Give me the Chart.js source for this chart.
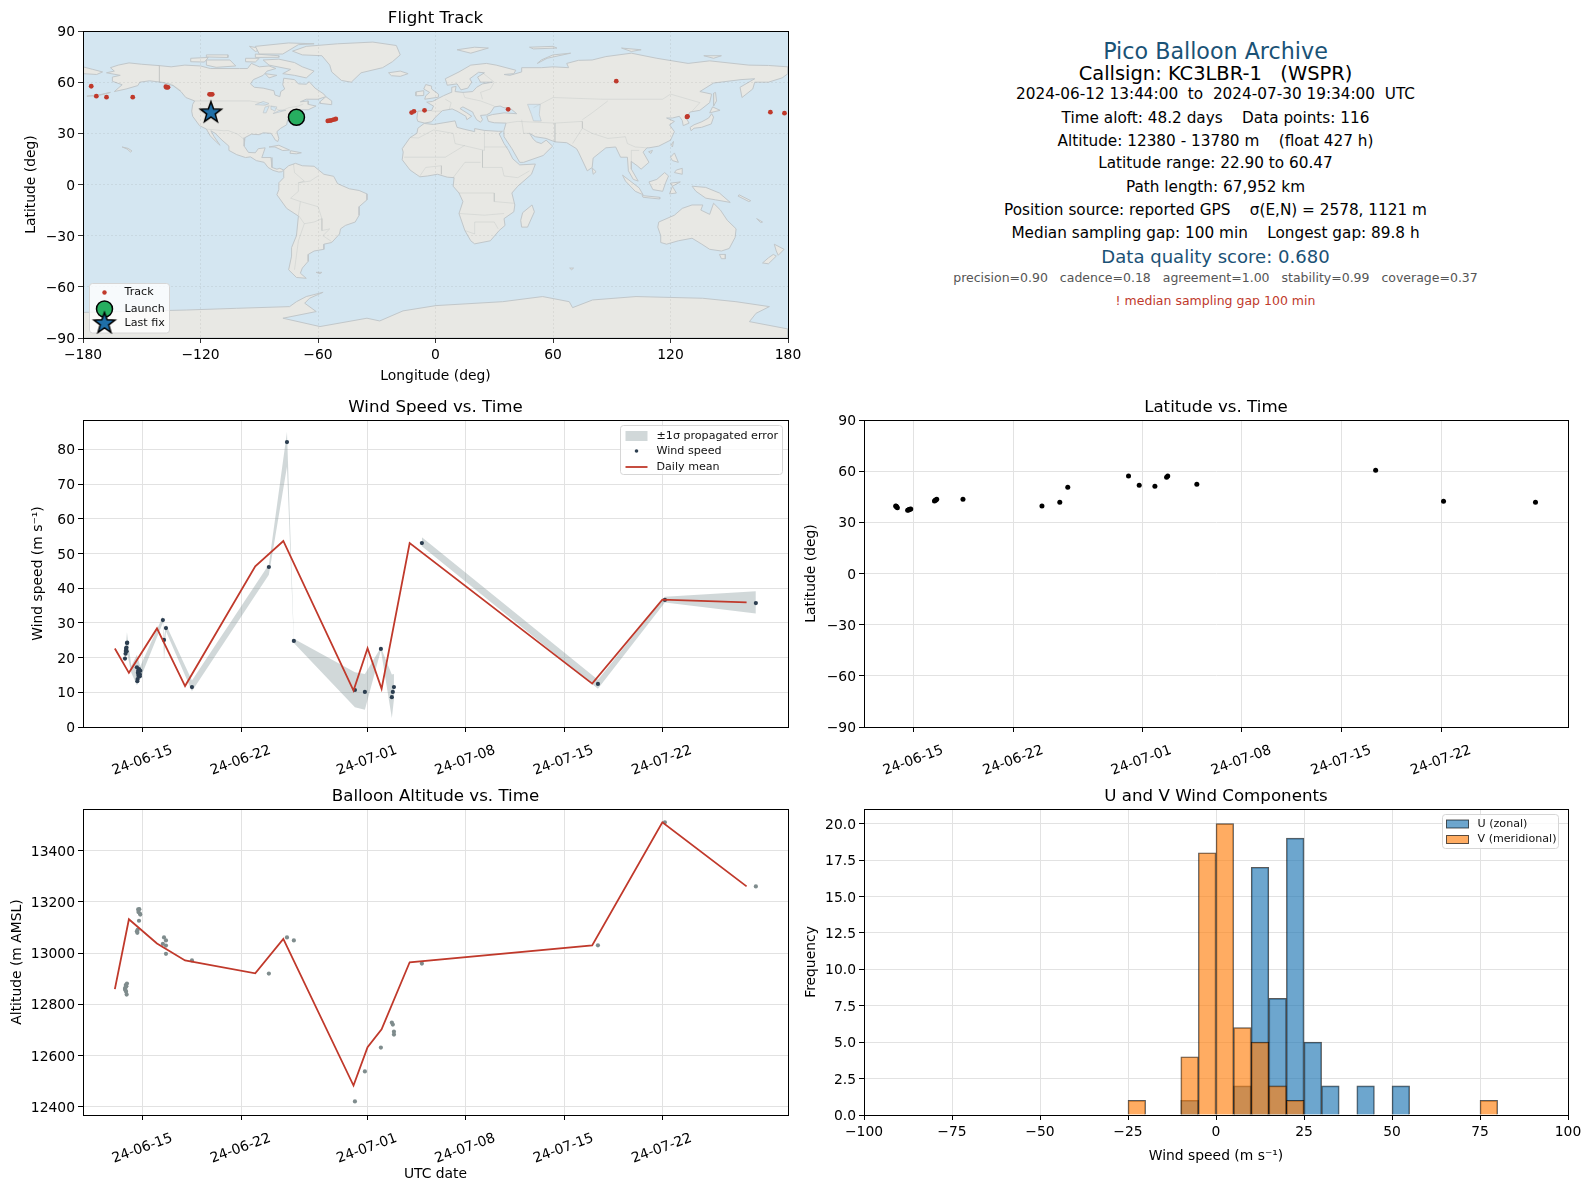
<!DOCTYPE html>
<html>
<head>
<meta charset="utf-8">
<title>Pico Balloon Archive</title>
<script src="https://cdn.jsdelivr.net/npm/chart.js@4"></script>
<style>
  html, body { margin: 0; padding: 0; background: #fff; }
  body { position: relative; width: 1589px; height: 1189px; overflow: hidden; font-family: "DejaVu Sans", sans-serif; }
  canvas { position: absolute; }
  .line { position: absolute; left: 1215.5px; transform: translate(-50%, -50%); white-space: pre; font-size: 15.28px; color: #000; }
</style>
</head>
<body>
<canvas id="map" style="left:0;top:7px" width="806" height="378"></canvas>
<canvas id="wind" style="left:0;top:396px" width="800" height="391"></canvas>
<canvas id="lat" style="left:790px;top:396px" width="799" height="391"></canvas>
<canvas id="alt" style="left:0;top:785px" width="800" height="398"></canvas>
<canvas id="hist" style="left:790px;top:785px" width="799" height="380"></canvas>

<div class="line" style="top:51px;font-size:22.22px;color:#1a5276">Pico Balloon Archive</div>
<div class="line" style="top:73px;font-size:19.44px">Callsign: KC3LBR-1   (WSPR)</div>
<div class="line" style="top:94px">2024-06-12 13:44:00  to  2024-07-30 19:34:00  UTC</div>
<div class="line" style="top:118px">Time aloft: 48.2 days    Data points: 116</div>
<div class="line" style="top:141px">Altitude: 12380 - 13780 m    (float 427 h)</div>
<div class="line" style="top:163px">Latitude range: 22.90 to 60.47</div>
<div class="line" style="top:187px">Path length: 67,952 km</div>
<div class="line" style="top:210px">Position source: reported GPS    σ(E,N) = 2578, 1121 m</div>
<div class="line" style="top:233px">Median sampling gap: 100 min    Longest gap: 89.8 h</div>
<div class="line" style="top:256px;font-size:18.06px;color:#1a5276">Data quality score: 0.680</div>
<div class="line" style="top:277px;font-size:12.5px;color:#555">precision=0.90   cadence=0.18   agreement=1.00   stability=0.99   coverage=0.37</div>
<div class="line" style="top:300px;font-size:12.5px;color:#c0392b">! median sampling gap 100 min</div>

<script>
// time axis: day number counted from June 1 (July 1 = 31)
const dateTicks = [15, 22, 31, 38, 45, 52]
const dateLabels = ['24-06-15', '24-06-22', '24-07-01', '24-07-08', '24-07-15', '24-07-22']

const lonTicks = [-180, -120, -60, 0, 60, 120, 180]
const latTicks = [-90, -60, -30, 0, 30, 60, 90]
const altTicks = [12400, 12600, 12800, 13000, 13200, 13400]

// track on the map
const trackLon = [-175.8, -173.2, -168, -154.6, -137.7, -136.6, -137.3, -115.4, -114, -114.7, -55, -53.2, -52, -50.9, -54, -12.2, -11, -5.6, 37.1, 92.3, 128.7, 128.4, 171, 178.2]
const trackLat = [57.6, 51.8, 51.2, 51.2, 57.3, 57, 56.9, 52.9, 52.9, 52.9, 37.3, 37.6, 38, 38.4, 37.4, 42.2, 42.9, 43.5, 44.1, 60.6, 40, 39.6, 42.4, 41.8]
const launchLon = [-71]
const launchLat = [39.4]
const lastLon = [-114.7]
const lastLat = [42.4]

// coastlines as lon/lat rings
const northAmerica = [[-168,65.5],[-164,66.5],[-166,68.5],[-162,70],[-156.5,71.3],[-150,70.5],[-141,69.7],[-135,69],[-128,70],[-120,69.5],[-115,68],[-108,68],[-100,68],[-96,68],[-94,71],[-90,69],[-85,69.5],[-81.5,68],[-86,66.5],[-88,64],[-93,61.5],[-94.5,59],[-92.5,57],[-88,56.5],[-82.5,55],[-82,52.5],[-79.5,51.5],[-79,54.5],[-77,56],[-78,58.5],[-77.5,62.3],[-72,61.5],[-70,59],[-66,58.8],[-64.5,60.3],[-61.5,56.5],[-57,53],[-56,51.5],[-60,50],[-66,50],[-69,48.5],[-65,49],[-65,47],[-61,46],[-65,43.8],[-70,43.8],[-70.5,41.8],[-74,40.5],[-75.5,38],[-76,35],[-79,33],[-81,31],[-80,27],[-80.5,25.2],[-81.8,26],[-82.8,28],[-84,30],[-88,30.3],[-90,29.2],[-94,29.5],[-97.3,27.5],[-97.7,22.5],[-95.5,18.8],[-92,18.6],[-90.5,21],[-87,21.5],[-88,18],[-88.7,15.8],[-84,15.8],[-83.5,12],[-83.5,10],[-81,9],[-79.5,9.5],[-77.5,8.5],[-78.5,7.5],[-80,7.3],[-83,8.3],[-85.5,10],[-87.5,13],[-91.5,14],[-94.5,16.2],[-97,15.8],[-101.5,17.5],[-105.5,20],[-105.5,22.5],[-109,26],[-112.5,30],[-114.7,31.5],[-113,28],[-110,23],[-112,25],[-115,28.5],[-117,32.5],[-120.5,34.5],[-124,40],[-124.5,43],[-124,47],[-123,49],[-127.5,51],[-130,54.5],[-134,58],[-139,59.8],[-146,60.8],[-151,60],[-152,58],[-158,56],[-164,54.5],[-160,58.5],[-165,60.5],[-165,63],[-161,64]]
const greenland = [[-73,78.2],[-66,81],[-50,82.5],[-32,83.5],[-20,81.5],[-18,76],[-22,72],[-27,68.5],[-38,65.5],[-43,60],[-48,61],[-53,66],[-54,70],[-58,75.5],[-68,76]]
const baffin = [[-80,73.5],[-72,71.5],[-68,69],[-62,66.5],[-66,62.5],[-72,64],[-78,65],[-74,67.5],[-85,70],[-88,73]]
const victoria = [[-117,73],[-105,73],[-102,69.5],[-112,68.7],[-117,70]]
const banks = [[-125,74],[-116,74.5],[-118,71.8],[-125,72]]
const ellesmere = [[-90,76.5],[-78,76.5],[-70,82],[-62,82.5],[-75,83],[-92,81]]
const devon = [[-92,76.5],[-80,75.5],[-80,74.6],[-92,74.5]]
const melville = [[-117,76],[-106,76],[-106,74.5],[-117,74.8]]
const somerset = [[-97,74],[-90,74],[-92,71.8],[-97,72]]
const southampton = [[-87,65],[-81,64],[-85,62.5]]
const axelHeiberg = [[-95,81],[-88,79.5],[-92,78]]
const newfoundland = [[-59,47.6],[-53,46.8],[-53,49],[-56,51.5],[-59,48.5]]
const cuba = [[-85,22],[-80,23],[-74.5,20.2],[-78,19.9],[-82,22]]
const hispaniola = [[-74,19.8],[-68.5,18.6],[-71,18],[-74.3,18.3]]
const hawaii = [[-160,22],[-157,21.2],[-155,19.7],[-155.7,19],[-157.5,20.8]]
const aleutians = [[-178,51.8],[-172,52.5],[-166,54],[-172,52.2]]
const southAmerica = [[-77.5,8.5],[-75,11],[-71.5,12.4],[-68,11],[-62,10.7],[-57,6],[-52,4.8],[-50,0.5],[-44,-2.5],[-39,-3.5],[-35,-5.5],[-35,-9],[-39,-13],[-39,-18],[-41,-22],[-46,-24],[-48.5,-26],[-49,-29],[-53,-34],[-57,-35],[-57,-38],[-62,-39],[-65,-41],[-65,-45],[-68,-49],[-69,-52],[-66,-55],[-71,-54.5],[-75,-50],[-73.5,-42],[-73.5,-37],[-71,-30],[-70,-18.5],[-76,-14],[-81,-6],[-80,-3],[-80,1],[-77.5,4]]
const falklands = [[-61,-51.5],[-58,-51.5],[-59,-52.3]]
const africa = [[-5.8,35.8],[-1,35.2],[10,37.3],[11,33.5],[15,32.3],[20,31],[20,32.8],[25,31.7],[32,31.2],[34.2,31.2],[32.5,29.8],[35,24],[37.3,20],[39.5,15],[43,11.5],[51,12],[49,6],[42,-1],[39,-5],[40.5,-12],[40,-16],[35,-20],[35.5,-24],[32.5,-27],[28,-33],[20,-34.8],[18,-33],[15,-27],[12,-17],[14,-10],[12,-5],[9,-1],[9.5,4],[6,4.3],[1,6],[-4,5],[-8,4.5],[-13,8.5],[-17,14.5],[-16.5,19],[-17,21],[-13,27.5],[-9.5,30],[-9,33]]
const madagascar = [[49.3,-12],[50.5,-16],[47,-25],[44,-25],[43.5,-21],[44.5,-16.5]]
const eurasia = [[-9,37],[-9.5,38.8],[-9,43],[-2,43.4],[-1,46],[-4.5,48.3],[-1.5,48.7],[1.5,50.5],[4,52],[8,54],[8.3,57],[10.5,57.5],[10,54.5],[14,54],[19,54.5],[21,57],[24,59],[29,60],[23,60],[21.5,63],[25,65.5],[22,65.8],[17.5,62],[18.5,60],[16.5,56.5],[13,55.5],[11,59],[6,58.2],[5,62],[12,66],[18,70],[26,71],[31,70],[41,67],[40,65],[35,64.5],[38,64],[44,66],[44,68.5],[54,68.5],[60,69],[68,68.5],[67,71],[73,72.8],[80,73],[87,75],[100,77],[113,74],[129,71],[140,72.5],[160,70],[170,69.8],[180,69],[180,65],[177,62.5],[170,60],[163,60],[162,56],[156.5,51],[155.5,57],[163,62],[156,61.5],[142,59.5],[135,54.5],[141,53],[140,48],[135,43.5],[130,42.5],[128,39],[129.5,36],[126.5,34.5],[126,37.5],[124.5,40],[121,39],[118,39],[122,37],[119.5,35],[122,31],[120,26],[114,22.5],[109,21.5],[108,21.5],[106,19],[109,13],[105,9],[103,11],[100,13.5],[100,9],[103.5,2],[101,3],[98.5,8],[98,16],[94.5,16],[92,22],[87,21.5],[80.5,15.5],[80,10],[77.5,8],[73,19],[72,21],[67,24.5],[61,25],[56.5,27],[51,28],[48,30],[50,26.5],[51.5,25],[54,24],[56.5,26],[59.8,22.5],[55,17],[45,13],[43,13],[39,21],[35,28],[34.9,31.5],[36,36],[30,36.2],[27,37],[26.2,40],[29,41],[35,42],[41.5,41.5],[38,44.8],[35,45],[33,46],[30,45.5],[28,42],[26,40.8],[23,40.5],[24,38],[23,36.5],[21,38],[19.5,41],[19,42.5],[14,45.5],[12.5,44.5],[16,42],[18.5,40],[16,38],[15.5,40],[11,43],[8.5,44.3],[3.5,43.3],[0,39.5],[-2,36.8],[-5.5,36]]
const chukotkaEnd = [[-180,69],[-175,67.5],[-170,66],[-173,64.5],[-180,65]]
const britain = [[-5.5,50],[1.5,51.2],[1.5,53],[-2,56],[-2,57.7],[-5,58.6],[-6,56],[-3,54],[-5,52]]
const ireland = [[-10,52],[-6,52.2],[-6,55],[-10,54.3]]
const iceland = [[-24,65.5],[-18,66.5],[-14,65],[-18,63.4],[-22.5,63.8]]
const svalbard = [[11,79],[20,80.5],[27,80],[18,77]]
const novayaZemlya = [[52,71],[57,74],[69,77],[60,76],[54,73]]
const franzJosef = [[48,80.5],[60,81],[62,80],[50,79.5]]
const severnaya = [[95,80],[105,79],[100,78]]
const newSiberian = [[137,75.5],[146,75.5],[142,74]]
const honshu = [[130.5,31.5],[132,33],[135.8,33.5],[140.8,35.5],[142,39.5],[141,41.5],[139.5,39],[136,36.8],[132,35],[130,33.5]]
const hokkaido = [[140,42],[145.3,43.5],[141.5,45.5]]
const sakhalin = [[142,46],[143.5,49],[143,54],[142,53.5]]
const taiwan = [[120.2,23],[121.5,25.2],[121,22]]
const hainan = [[108.8,19.2],[110.8,20],[110,18.2]]
const luzon = [[120,16],[122,18.5],[124,13],[121,14]]
const mindanao = [[122,7],[126,6],[126,9.5],[123,8.5]]
const sumatra = [[95.5,5.5],[104,-2],[106,-6],[102,-4],[97,2]]
const java = [[105.5,-6.5],[114.5,-7.5],[114.5,-8.5],[106,-7.5]]
const borneo = [[109,1.5],[113,3],[117,7],[119,5],[117.5,1],[116,-4],[111,-3]]
const sulawesi = [[119.5,-5.5],[121,-1],[125,1.5],[120,0.8],[123,-5]]
const newGuinea = [[131,-1],[138,-1.7],[145,-5],[150.5,-10.5],[143,-9],[138,-8],[133,-4]]
const solomons = [[155,-6],[161,-9.5],[160,-10],[154.5,-6.8]]
const newCaledonia = [[164,-20],[167,-22],[166,-22.3]]
const sriLanka = [[80,9.7],[82,7.5],[80.5,6]]
const australia = [[114,-22],[122,-18],[126,-14],[131,-12],[136.5,-12],[135.5,-15],[140,-17.5],[142,-11],[145.5,-15],[149,-21],[153.5,-26],[153,-31],[150,-37.5],[146,-39],[140,-38],[136,-35],[131,-31.5],[124,-33],[118,-35],[115,-34],[115,-30],[113.5,-25]]
const tasmania = [[145,-41],[148,-41],[148,-43.5],[146,-43.5]]
const newZealandN = [[173,-35],[178,-38],[175,-41.5],[174,-39]]
const newZealandS = [[172.5,-41],[174,-42],[170,-46.5],[167,-46],[170,-43]]
const kerguelen = [[68.5,-49],[70.5,-49],[69.5,-50]]
const antarctica = [[-180,-75],[-146,-74.1],[-127.2,-73.6],[-101.7,-72.6],[-74.5,-71.6],[-71,-68.7],[-66,-65.7],[-57.4,-63.2],[-64.3,-66.7],[-66.8,-69.6],[-60.9,-74.5],[-77.9,-78.4],[-59,-83.3],[-35,-78.4],[-28.5,-80],[-16.6,-74.1],[0.25,-71],[34.3,-68.7],[54.7,-65.7],[68.3,-68.7],[70,-72.2],[80.2,-67.7],[102.4,-65.7],[136.4,-66.7],[153.4,-68.7],[170.5,-71.6],[163.7,-75.5],[160.3,-80.4],[180,-84.7],[180,-90],[-180,-90]]
const landRings = [northAmerica, greenland, baffin, victoria, banks, ellesmere, devon, melville, somerset, southampton, axelHeiberg, newfoundland, cuba, hispaniola, hawaii, aleutians, southAmerica, falklands, africa, madagascar, eurasia, chukotkaEnd, britain, ireland, iceland, svalbard, novayaZemlya, franzJosef, severnaya, newSiberian, honshu, hokkaido, sakhalin, taiwan, hainan, luzon, mindanao, sumatra, java, borneo, sulawesi, newGuinea, solomons, newCaledonia, sriLanka, australia, tasmania, newZealandN, newZealandS, kerguelen, antarctica]

const caspian = [[47,47],[53.5,47],[53,41],[54,37.2],[50,37.3],[49,41]]
const lakeSuperior = [[-92,46.8],[-88,48.7],[-85,47.5],[-87,46.5]]
const lakeMichigan = [[-88,42],[-86.5,42],[-85,45.8],[-87,45.5]]
const lakeHuron = [[-84,46],[-81,45.5],[-82,43],[-83.5,44]]
const lakeErieOntario = [[-83,41.6],[-79,42.7],[-76.3,43.5],[-79.5,43.6],[-81,42.7]]
const waterRings = [caspian, lakeSuperior, lakeMichigan, lakeHuron, lakeErieOntario]

const borderLines = [
  [[-141,69.7],[-141,60],[-135,59],[-130,55]],
  [[-123,49],[-95,49],[-89,48],[-83,45.5],[-79,43],[-75,45],[-70,46],[-67.5,47.2]],
  [[-117,32.5],[-108,31.5],[-106,31.7],[-101,29.5],[-97.3,26]],
  [[-70,-18],[-69,-10],[-74,-8],[-70,-4],[-70,1],[-67,2],[-72,7],[-72.5,12]],
  [[-58,-20],[-62,-22],[-67,-23],[-70,-18]],
  [[-67,-23],[-70,-33],[-72,-50]],
  [[-58,-20],[-58,-27],[-54,-26],[-57.5,-30],[-53,-33.5]],
  [[-60,5],[-64,2],[-70,1]],
  [[-69,-10],[-60,-13],[-58,-20]],
  [[-13,27.5],[-8.7,27.3],[-1,32]],
  [[-1,32],[9,30],[10,24],[25,20],[25,31.7]],
  [[25,22],[37,22]],
  [[-16,16],[5,16],[15,23]],
  [[24,20],[24,10],[34,10],[35,5],[42,4],[48,8]],
  [[12,-5],[30,-5],[30,-10],[40,-11]],
  [[12,-17],[25,-18],[35,-17]],
  [[15,-27],[20,-29],[20,-22],[30,-22],[32,-26]],
  [[9,4],[15,13],[23,13]],
  [[-8,5],[-5,10],[3,11],[3,6]],
  [[3,43],[-2,43]],
  [[5,50],[8,48],[7,44]],
  [[14,54],[15,51],[23,49],[30,46]],
  [[24,65.5],[30,60],[28,56],[23,54],[24,50]],
  [[44,38],[45,30],[48,30]],
  [[36,36],[42,37],[61,36],[61,25]],
  [[50,45],[60,51],[85,50],[98,50],[116,50],[120,53],[135,48],[131,43]],
  [[75,38],[80,42],[88,49]],
  [[61,36],[75,37],[75,33],[70,24]],
  [[75,33],[80,30],[88,27],[97,28],[98,24],[102,22],[108,21.5]],
  [[100,13.5],[100,20],[104,20]]
]

// wind speed samples
const windDays = [13.72, 13.76, 13.78, 13.8, 13.82, 13.84, 13.86, 13.88, 14.57, 14.6, 14.62, 14.64, 14.66, 14.68, 14.7, 14.72, 14.76, 14.78, 14.81, 14.78, 16.42, 16.5, 16.64, 18.49, 23.97, 25.26, 25.75, 30.1, 30.81, 31.95, 32.73, 32.8, 32.88, 34.87, 47.41, 52.18, 58.66]
const windSpeed = [19.7, 21.1, 21.9, 22.5, 22.9, 21.8, 24.2, 24.3, 17.2, 13.2, 13.8, 15.6, 16.2, 14.8, 15.1, 16.7, 16.3, 14.6, 16.2, 15.2, 30.8, 25.1, 28.5, 11.5, 46.1, 82.1, 24.8, 10.66, 10.1, 22.5, 8.6, 10.1, 11.5, 53.0, 12.4, 36.6, 35.7]
const windMeanDays = [13, 14, 16, 18, 23, 25, 30, 31, 32, 34, 47, 52, 58]
const windMean = [22.6, 15.6, 28.4, 11.8, 46.3, 53.6, 10.5, 22.7, 11.0, 53.0, 12.5, 36.7, 35.9]

// propagated error band, null where the band breaks
const bandDays = [13.72, 13.86, 14.17, 14.57, 14.81, 16.42, 16.5, 16.64, 18.49, 23.97, 25.26, 25.75, 30.1, 30.81, 31.95, 32.73, 32.88, 33.9, 34.87, 47.41, 52.18, 58.66]
const bandLow = [19.0, 21.5, 15.6, 12.0, 14.0, 30.0, 19.2, 27.6, 10.3, 43.9, 75.0, 24.2, 5.7, 5.0, 22.1, 2.6, 7.9, null, 52.1, 11.0, 35.9, 32.7]
const bandHigh = [20.4, 27.3, 17.6, 20.8, 17.5, 31.9, 25.6, 29.5, 13.4, 46.8, 85.0, 25.4, 15.8, 15.3, 22.9, 15.1, 15.3, null, 54.7, 13.6, 37.5, 39.1]

// latitude samples
const latDays = [13.72, 13.76, 13.78, 13.84, 14.56, 14.62, 14.66, 14.72, 14.78, 16.44, 16.5, 16.53, 16.6, 18.44, 23.98, 25.23, 25.79, 30.05, 30.8, 31.9, 32.72, 32.8, 34.84, 47.38, 52.14, 58.59]
const latValues = [39.6, 39.4, 39.2, 38.6, 37.1, 37.3, 37.5, 37.6, 37.8, 42.5, 42.9, 43.1, 43.5, 43.5, 39.6, 41.8, 50.6, 57.1, 51.8, 51.2, 56.5, 57.1, 52.4, 60.6, 42.4, 41.8]

// altitude samples
const altDays = [13.72, 13.74, 13.76, 13.78, 13.8, 13.82, 13.84, 13.86, 14.57, 14.6, 14.62, 14.66, 14.68, 14.72, 14.74, 14.78, 14.81, 16.42, 16.5, 16.64, 16.64, 16.64, 18.49, 23.97, 25.26, 25.75, 30.1, 30.81, 31.95, 32.73, 32.8, 32.88, 32.88, 34.87, 47.41, 52.18, 58.66]
const altValues = [12860, 12864, 12855, 12875, 12849, 12870, 12838, 12881, 13085, 13079, 13090, 13170, 13160, 13126, 13171, 13154, 13150, 13036, 13061, 13049, 13029, 12997, 12971, 12920, 13061, 13049, 12421, 12538, 12631, 12729, 12721, 12693, 12682, 12959, 13030, 13510, 13260]
const altMean = [12859, 13132, 13037, 12971, 12921, 13055, 12483, 12633, 12702, 12964, 13030, 13510, 13260]

// wind component histogram, 5 m/s bins named by their centre
const binCenters = [-22.5, -7.5, -2.5, 2.5, 7.5, 12.5, 17.5, 22.5, 27.5, 32.5, 42.5, 52.5, 77.5]
const uCounts = [0, 1, 0, 0, 2, 17, 8, 19, 5, 2, 2, 2, 0]
const vCounts = [1, 4, 18, 20, 6, 5, 2, 1, 0, 0, 0, 0, 1]

const FONT = '"DejaVu Sans", sans-serif'
const GRID = '#e2e2e2'
const RED = '#c0392b'

Chart.defaults.font.family = FONT
Chart.defaults.color = '#000'
Chart.defaults.animation = false
Chart.defaults.responsive = false
Chart.defaults.devicePixelRatio = 1

const pairs = (xs, ys) => xs.map((x, i) => ({x: x, y: ys[i]}))
const polyline = r => r.map(p => ({x: p[0], y: p[1]}))
const ring = r => polyline(r.concat([r[0]]))
const minus = v => String(v).replace('-', '\u2212')

// filled five point star, Chart.js only has the asterisk one
const makeStar = () => {
  const c = document.createElement('canvas')
  c.width = 28
  c.height = 28
  const g = c.getContext('2d')
  g.beginPath()
  for (let i = 0; i < 10; i++) {
    const r = i % 2 ? 4.5 : 11
    const a = -Math.PI / 2 + i * Math.PI / 5
    g.lineTo(14 + r * Math.cos(a), 14.5 + r * Math.sin(a))
  }
  g.closePath()
  g.fillStyle = '#1f6fa8'
  g.fill()
  g.lineWidth = 1.5
  g.strokeStyle = '#000'
  g.stroke()
  return c
}
const starIcon = makeStar()

// frame on all four sides and optional plot background
const panelFrame = {
  id: 'panelFrame',
  beforeDraw(chart, args, opts) {
    if (!opts.background) return
    const a = chart.chartArea
    chart.ctx.fillStyle = opts.background
    chart.ctx.fillRect(a.left, a.top, a.right - a.left, a.bottom - a.top)
  },
  afterDraw(chart) {
    const a = chart.chartArea
    chart.ctx.strokeStyle = '#000'
    chart.ctx.lineWidth = 1
    chart.ctx.strokeRect(a.left + 0.5, a.top + 0.5, a.right - a.left, a.bottom - a.top)
  }
}

// matplotlib style legend box inside the axes
const boxLegend = cfg => ({
  id: 'boxLegend',
  afterDraw(chart) {
    const ctx = chart.ctx
    ctx.save()
    ctx.beginPath()
    ctx.roundRect(cfg.x, cfg.y, cfg.w, cfg.h, 3)
    ctx.fillStyle = 'rgba(255,255,255,0.8)'
    ctx.fill()
    ctx.strokeStyle = '#d6d6d6'
    ctx.lineWidth = 1
    ctx.stroke()
    cfg.rows.forEach(row => {
      const mx = cfg.x + cfg.markX
      if (row.kind == 'box') {
        ctx.fillStyle = row.fill
        ctx.strokeStyle = row.stroke
        ctx.fillRect(mx - cfg.boxW / 2, row.y - cfg.boxH / 2, cfg.boxW, cfg.boxH)
        if (row.stroke) ctx.strokeRect(mx - cfg.boxW / 2, row.y - cfg.boxH / 2, cfg.boxW, cfg.boxH)
      } else if (row.kind == 'line') {
        ctx.strokeStyle = row.stroke
        ctx.lineWidth = 1.8
        ctx.beginPath()
        ctx.moveTo(mx - cfg.boxW / 2, row.y)
        ctx.lineTo(mx + cfg.boxW / 2, row.y)
        ctx.stroke()
      } else if (row.kind == 'dot') {
        ctx.fillStyle = row.fill
        ctx.beginPath()
        ctx.arc(mx, row.y, row.r, 0, Math.PI * 2)
        ctx.fill()
        if (row.stroke) {
          ctx.strokeStyle = row.stroke
          ctx.lineWidth = 1.5
          ctx.stroke()
        }
      } else if (row.kind == 'star') {
        ctx.drawImage(starIcon, mx - 14, row.y - 14.5)
      }
      ctx.fillStyle = '#111'
      ctx.font = cfg.size + 'px ' + FONT
      ctx.textBaseline = 'middle'
      ctx.textAlign = 'left'
      ctx.fillText(row.label, cfg.x + cfg.textX, row.y)
    })
    ctx.restore()
  }
})

const tickFont = {size: 13.89}

const fixedAxis = (size, isX, title, titlePad) => ({
  border: {color: '#000', width: 1},
  grid: {color: GRID, lineWidth: 1, tickColor: '#000', tickLength: 5, offset: false},
  afterFit: s => {
    if (isX) s.height = size; else s.width = size
    // labels at the ends must not shrink the plot area
    s.paddingLeft = s.paddingRight = s.paddingTop = s.paddingBottom = 0
  },
  title: title ? {display: true, text: title, font: {size: 13.89}, padding: {top: titlePad, bottom: titlePad}} : {display: false}
})

const fixedTicks = list => s => { s.ticks = list.map(v => ({value: v})) }

const dateAxis = (min, max, title) => Object.assign(fixedAxis(title ? 68 : 60, true, title, 0), {
  type: 'linear',
  min: min,
  max: max,
  afterBuildTicks: fixedTicks(dateTicks),
  ticks: {
    font: tickFont,
    autoSkip: false,
    minRotation: 20,
    maxRotation: 20,
    labelOffset: 29,
    padding: 10,
    callback: (v, i) => dateLabels[i]
  }
})

const numberAxis = (width, title, titlePad, min, max, step, fmt) => Object.assign(fixedAxis(width, false, title, titlePad), {
  type: 'linear',
  min: min,
  max: max,
  ticks: {font: tickFont, stepSize: step, includeBounds: false, padding: 3, labelOffset: 1.5, callback: fmt || minus}
})

const titleOf = text => ({display: true, text: text, fullSize: false, font: {size: 16.67, weight: 'normal', lineHeight: 1.2}, color: '#000', padding: {top: 2, bottom: 2}})

const baseOptions = (title, scales, padRight, background) => ({
  layout: {padding: {right: padRight}},
  plugins: {legend: {display: false}, tooltip: {enabled: false}, title: titleOf(title), panelFrame: {background: background}},
  scales: scales
})

// flight track map
const mapGrid = {color: 'rgba(120,120,120,0.16)', lineWidth: 0.8, tickColor: '#000', tickLength: 5, z: 1}
const mapBorder = {display: false, dash: [2, 2]}
const mapX = Object.assign(fixedAxis(47, true, 'Longitude (deg)', 0), {
  type: 'linear', min: -180, max: 180,
  afterBuildTicks: fixedTicks(lonTicks),
  grid: mapGrid, border: mapBorder,
  ticks: {font: tickFont, autoSkip: false, maxRotation: 0, padding: 4, callback: minus}
})
const mapY = Object.assign(fixedAxis(83, false, 'Latitude (deg)', 23), {
  type: 'linear', min: -90, max: 90,
  afterBuildTicks: fixedTicks(latTicks),
  grid: mapGrid, border: mapBorder,
  ticks: {font: tickFont, autoSkip: false, padding: 3, labelOffset: 1.5, callback: minus}
})

const COAST = '#c1c7ca'
const mapSets = [
  {label: 'Last fix', data: pairs(lastLon, lastLat), pointStyle: starIcon, pointRadius: 12},
  {label: 'Launch', data: pairs(launchLon, launchLat), pointRadius: 8, backgroundColor: '#27ae60', borderColor: '#000', borderWidth: 1.5},
  {label: 'Track', data: pairs(trackLon, trackLat), pointRadius: 2.4, backgroundColor: RED, borderWidth: 0},
  ...borderLines.map(l => ({data: polyline(l), showLine: true, pointRadius: 0, borderColor: 'rgba(176,182,184,0.4)', borderWidth: 0.7})),
  ...waterRings.map(r => ({data: ring(r), showLine: true, pointRadius: 0, fill: 'shape', backgroundColor: '#d4e6f1', borderColor: COAST, borderWidth: 0.7})),
  ...landRings.map(r => ({data: ring(r), showLine: true, pointRadius: 0, fill: 'shape', backgroundColor: '#e8e8e4', borderColor: COAST, borderWidth: 1}))
]

new Chart(document.getElementById('map'), {
  type: 'scatter',
  data: {datasets: mapSets},
  options: baseOptions('Flight Track', {x: mapX, y: mapY}, 18, '#d4e6f1'),
  plugins: [panelFrame, boxLegend({
    x: 89.5, y: 276.5, w: 80, h: 49.5, markX: 15, textX: 35, size: 11.11, boxW: 22, boxH: 10,
    rows: [
      {label: 'Track', kind: 'dot', y: 285.5, r: 2.2, fill: RED},
      {label: 'Launch', kind: 'dot', y: 302, r: 8, fill: '#27ae60', stroke: '#000'},
      {label: 'Last fix', kind: 'star', y: 316.5}
    ]
  })]
})

// wind speed
new Chart(document.getElementById('wind'), {
  type: 'scatter',
  data: {datasets: [
    {label: 'Daily mean', data: pairs(windMeanDays, windMean), showLine: true, pointRadius: 0, borderColor: RED, borderWidth: 1.8},
    {label: 'Wind speed', data: pairs(windDays, windSpeed), pointRadius: 2.1, backgroundColor: '#2c3e50', borderWidth: 0},
    {data: pairs(bandDays, bandHigh), showLine: true, pointRadius: 0, borderWidth: 0, fill: '+1', backgroundColor: 'rgba(127,146,150,0.36)'},
    {data: pairs(bandDays, bandLow), showLine: true, pointRadius: 0, borderWidth: 0}
  ]},
  options: baseOptions('Wind Speed vs. Time', {
    x: dateAxis(10.73, 60.95),
    y: numberAxis(83, 'Wind speed (m s\u207B\u00B9)', 30, 0, 88.45, 10)
  }, 12),
  plugins: [panelFrame, boxLegend({
    x: 620.5, y: 29.5, w: 162, h: 49, markX: 16, textX: 36, size: 11.11, boxW: 22, boxH: 10,
    rows: [
      {label: '\u00B11\u03C3 propagated error', kind: 'box', y: 40, fill: 'rgba(127,146,150,0.36)'},
      {label: 'Wind speed', kind: 'dot', y: 55, r: 1.8, fill: '#2c3e50'},
      {label: 'Daily mean', kind: 'line', y: 71, stroke: RED}
    ]
  })]
})

// latitude
new Chart(document.getElementById('lat'), {
  type: 'scatter',
  data: {datasets: [
    {label: 'Latitude', data: pairs(latDays, latValues), pointRadius: 2.5, backgroundColor: '#000', borderWidth: 0}
  ]},
  options: baseOptions('Latitude vs. Time', {
    x: dateAxis(11.5, 60.87),
    y: numberAxis(74, 'Latitude (deg)', 13, -90, 90, 30)
  }, 21),
  plugins: [panelFrame]
})

// altitude
const altY = numberAxis(83, 'Altitude (m AMSL)', 9, 12368, 13562, 200)
altY.afterBuildTicks = fixedTicks(altTicks)

new Chart(document.getElementById('alt'), {
  type: 'scatter',
  data: {datasets: [
    {label: 'Daily mean', data: pairs(windMeanDays, altMean), showLine: true, pointRadius: 0, borderColor: RED, borderWidth: 1.8},
    {label: 'Altitude', data: pairs(altDays, altValues), pointRadius: 2.1, backgroundColor: '#7f8c8d', borderWidth: 0}
  ]},
  options: baseOptions('Balloon Altitude vs. Time', {
    x: dateAxis(10.73, 60.95, 'UTC date'),
    y: altY
  }, 12),
  plugins: [panelFrame]
})

// histogram
new Chart(document.getElementById('hist'), {
  type: 'bar',
  data: {labels: binCenters, datasets: [
    {label: 'V (meridional)', order: 0, data: pairs(binCenters, vCounts.map(c => c || null)), backgroundColor: 'rgba(255,127,14,0.65)', borderColor: 'rgba(0,0,0,0.65)', borderWidth: 1, grouped: false, categoryPercentage: 1, barPercentage: 1},
    {label: 'U (zonal)', order: 1, data: pairs(binCenters, uCounts.map(c => c || null)), backgroundColor: 'rgba(31,119,180,0.65)', borderColor: 'rgba(0,0,0,0.65)', borderWidth: 1, grouped: false, categoryPercentage: 1, barPercentage: 1}
  ]},
  options: baseOptions('U and V Wind Components', {
    x: Object.assign(fixedAxis(50, true, 'Wind speed (m s\u207B\u00B9)', 0), {
      type: 'linear', min: -100, max: 100, offset: false,
      ticks: {font: tickFont, stepSize: 25, autoSkip: false, maxRotation: 0, padding: 4, callback: minus}
    }),
    y: numberAxis(74, 'Frequency', 13, 0, 21, 2.5, v => v.toFixed(1))
  }, 21),
  plugins: [panelFrame, boxLegend({
    x: 652.5, y: 29.5, w: 116, h: 34, markX: 15, textX: 35, size: 11.11, boxW: 22, boxH: 8,
    rows: [
      {label: 'U (zonal)', kind: 'box', y: 39, fill: 'rgba(31,119,180,0.65)', stroke: 'rgba(0,0,0,0.65)'},
      {label: 'V (meridional)', kind: 'box', y: 54.5, fill: 'rgba(255,127,14,0.65)', stroke: 'rgba(0,0,0,0.65)'}
    ]
  })]
})
</script>
</body>
</html>
